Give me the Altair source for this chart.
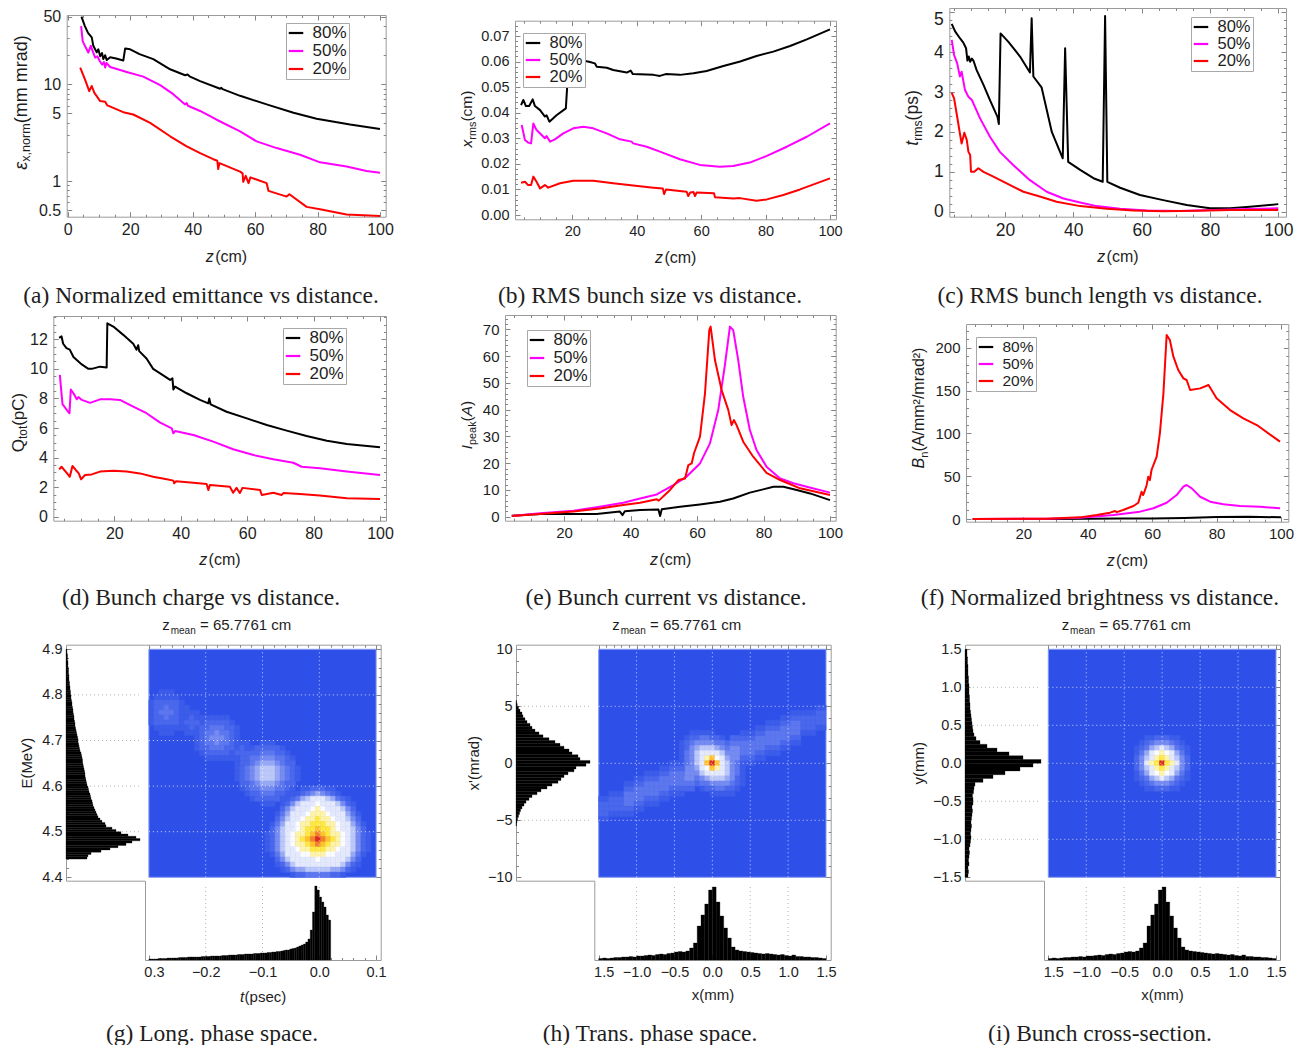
import math
import altair as alt
import pandas as pd

W, H, M = 1292, 1037, 8
SANS, SERIF = "Liberation Sans", "Liberation Serif"
FRAME, TICKC, TXT = "#9b9b9b", "#858585", "#1e1e1e"
FS = 15
SERIES = ["80%", "50%", "20%"]
SERIES_COLORS = ["#000000", "#ff00ff", "#ff0000"]

# ---------------- (a) normalized emittance (mm mrad) vs z (cm)
A80 = [(4.4, 50), (5.5, 40), (6.5, 34), (7.7, 30.6), (8.2, 25), (9.3, 21.4), (9.8, 23), (10.4, 19.5),
       (11.0, 21), (11.4, 18.2), (12.0, 20), (12.5, 17.8), (13.6, 19.0), (15.5, 18.5), (17.8, 17.6),
       (18.4, 23.5), (20, 23), (23, 20.5), (27.4, 18.2), (32.8, 14.3), (37.6, 12.4), (38.4, 12.6),
       (39, 12.1), (42.4, 10.8), (48.8, 9.0), (49.2, 9.2), (49.6, 8.9), (55.2, 7.6), (63.7, 6.2),
       (72.3, 5.07), (79.7, 4.4), (90.4, 3.83), (100, 3.45)]
A50 = [(4.3, 39.9), (4.8, 28), (5.5, 25), (6.6, 21.3), (7.4, 25), (8.0, 22), (8.8, 18.9), (9.5, 19.5),
       (10.2, 17.5), (11.0, 16.0), (11.6, 17.0), (12.0, 14.9), (12.4, 16.6), (13.6, 15.1), (18.9, 13.4),
       (24.2, 12), (29.6, 9.8), (33.8, 7.9), (37.5, 6.2), (38.1, 6.4), (38.5, 6.0), (42.4, 5.3),
       (47.7, 4.3), (55.2, 3.26), (60.5, 2.57), (66.9, 2.19), (74.4, 1.87), (80.8, 1.56), (89.3, 1.41),
       (95.7, 1.27), (100, 1.22)]
A20 = [(4.0, 14.9), (5.5, 11.3), (6.9, 8.5), (7.7, 9.6), (8.5, 8.2), (10.4, 6.7), (12.0, 6.6), (12.7, 6.05),
       (17.8, 5.15), (21, 4.87), (26.4, 3.99), (32.8, 2.9), (38.1, 2.28), (42.4, 1.94), (46.6, 1.68),
       (47.9, 1.62), (48.2, 1.33), (48.6, 1.53), (55.2, 1.25), (56.0, 1.2), (56.2, 0.98), (57.0, 1.13),
       (57.9, 0.95), (58.5, 1.09), (63.7, 0.95), (64.3, 0.79), (70.1, 0.69), (71.0, 0.73), (76.5, 0.54),
       (80.8, 0.51), (89.3, 0.45), (100, 0.435)]

# ---------------- (b) rms bunch size (cm)
B80 = [(4.1, 0.043), (4.8, 0.045), (5.6, 0.0426), (6.6, 0.0426), (7.7, 0.0452), (8.4, 0.0426), (10, 0.041),
       (11.5, 0.0385), (12, 0.039), (12.9, 0.0365), (15.1, 0.039), (18, 0.0417), (18.4, 0.050),
       (19.2, 0.060), (20.3, 0.0615), (23, 0.0605), (25.5, 0.0598), (27, 0.0593), (27.6, 0.058),
       (30.7, 0.0576), (32.7, 0.0567), (36.9, 0.0557), (38.1, 0.0565), (38.8, 0.0551), (45.2, 0.0548),
       (47.2, 0.0544), (49, 0.0551), (53.4, 0.0548), (57.6, 0.0554), (61.7, 0.0563), (66.9, 0.0583),
       (72.1, 0.06), (77.2, 0.0622), (82.4, 0.0639), (87.6, 0.0661), (92.8, 0.0687), (100, 0.0726)]
B50 = [(4.3, 0.0352), (5.3, 0.0293), (6.3, 0.0283), (7.2, 0.028), (7.9, 0.0358), (8.9, 0.0332), (10, 0.0319),
       (11.5, 0.03), (12, 0.0309), (13.1, 0.0287), (14.6, 0.0296), (17.2, 0.0319), (20.3, 0.0339),
       (23.4, 0.0345), (26.5, 0.0339), (30.7, 0.0319), (34.8, 0.0296), (38.4, 0.0287), (38.9, 0.028),
       (43.1, 0.0267), (47.2, 0.0248), (53.4, 0.0218), (59.6, 0.0196), (65.8, 0.0189), (69.9, 0.0192),
       (75.1, 0.0205), (80.4, 0.0231), (86.6, 0.0267), (92.8, 0.0306), (100, 0.0358)]
B20 = [(4.1, 0.0126), (5.3, 0.013), (6.3, 0.0117), (7.2, 0.0117), (7.9, 0.015), (8.9, 0.013), (10, 0.0104),
       (11.5, 0.0117), (12.5, 0.0107), (16.2, 0.0124), (20.3, 0.0134), (26.5, 0.0134), (32.7, 0.0124),
       (38.9, 0.0115), (45.2, 0.0107), (48.1, 0.0104), (48.5, 0.0082), (49.1, 0.01), (55.5, 0.0091),
       (56, 0.0074), (56.6, 0.0088), (57.6, 0.009), (58.1, 0.0074), (58.6, 0.0088), (64, 0.0085),
       (64.3, 0.0069), (70, 0.0065), (72, 0.0066), (77.2, 0.0056), (80.4, 0.0061), (85.5, 0.0078),
       (90.7, 0.01), (100, 0.0143)]

# ---------------- (c) rms bunch length (ps)
C80 = [(4.4, 4.71), (5.4, 4.52), (6.8, 4.35), (7.8, 4.24), (8.6, 4.1), (9.0, 3.79), (9.4, 3.89), (9.8, 3.76),
       (10.3, 3.84), (10.8, 3.78), (11.7, 3.55), (13.7, 3.18), (15.6, 2.8), (17.8, 2.38), (18.2, 2.2),
       (18.7, 4.47), (21, 4.26), (24.4, 3.89), (27.3, 3.49), (27.8, 4.85), (28.3, 3.39), (30.7, 3.12),
       (33.7, 2.0), (36.9, 1.34), (37.6, 4.1), (38.5, 1.25), (42, 1.05), (45.9, 0.84), (48.6, 0.75),
       (49.3, 4.91), (49.95, 0.75), (53.7, 0.6), (59.5, 0.42), (66.3, 0.29), (73.2, 0.17), (80, 0.084),
       (85.9, 0.084), (91.7, 0.125), (100, 0.19)]
C50 = [(4.4, 4.31), (5.1, 3.93), (6.0, 3.72), (6.8, 3.39), (7.3, 3.51), (8.3, 3.05), (9.3, 2.88), (10.3, 2.8),
       (11.2, 2.63), (12.7, 2.34), (15.6, 1.88), (18.5, 1.5), (22.4, 1.17), (27.3, 0.79), (32.2, 0.5),
       (37.1, 0.33), (42, 0.23), (46.8, 0.14), (53.7, 0.075), (61.5, 0.033), (71.2, 0.017), (81, 0.04),
       (90.7, 0.067), (100, 0.084)]
C20 = [(4.4, 2.98), (5.1, 2.84), (6.0, 2.38), (6.8, 1.96), (7.3, 1.71), (8.1, 1.98), (8.8, 1.8), (9.3, 1.5),
       (9.8, 1.42), (10.05, 1.0), (11, 1.0), (12.2, 1.09), (13.7, 1.0), (16.6, 0.88), (20.5, 0.71),
       (25.4, 0.5), (30.2, 0.38), (35.1, 0.25), (42, 0.14), (49.8, 0.075), (57.6, 0.033), (66.3, 0.01),
       (76.1, 0.025), (85.9, 0.04), (100, 0.04)]

# ---------------- (d) bunch charge (pC)
D80 = [(3.4, 12.1), (4.1, 12.2), (4.6, 11.7), (5.6, 11.4), (6.6, 11.3), (7.7, 10.8), (8.7, 10.6), (10.2, 10.3),
       (12.2, 10.0), (13.2, 10.0), (15.7, 10.15), (17.7, 10.1), (17.9, 13.08), (19.7, 12.86), (22.7, 12.3),
       (25.7, 11.7), (26.7, 11.3), (27.2, 11.6), (27.5, 11.2), (29.7, 10.7), (31.7, 10.0), (33.8, 9.7),
       (36.8, 9.25), (37.5, 9.36), (37.8, 8.6), (38.3, 8.8), (41.8, 8.35), (45.8, 7.9), (48.3, 7.67),
       (48.6, 8.0), (49.0, 7.6), (53.8, 7.1), (59.9, 6.65), (65.9, 6.2), (71.9, 5.82), (77.9, 5.46),
       (84, 5.14), (90, 4.92), (100, 4.69)]
D50 = [(3.6, 9.59), (4.4, 7.62), (6.1, 7.1), (6.5, 7.0), (6.9, 8.6), (7.7, 8.35), (8.7, 7.94), (9.2, 8.1),
       (10.2, 7.9), (12.7, 7.7), (15.7, 7.94), (18.7, 7.94), (21.7, 7.9), (25.7, 7.44), (29.7, 7.0),
       (33.8, 6.36), (37.3, 5.98), (37.8, 5.64), (38.3, 5.8), (43.8, 5.53), (49.8, 5.08), (55.8, 4.56),
       (61.9, 4.17), (67.9, 3.88), (73.9, 3.65), (76.4, 3.38), (81.9, 3.27), (90, 3.05), (100, 2.82)]
D20 = [(3.4, 3.2), (4.1, 3.38), (5.6, 2.98), (6.6, 2.7), (7.4, 3.43), (8.4, 3.16), (9.3, 2.93), (10.0, 2.53),
       (11.2, 2.82), (13.2, 2.86), (15.7, 3.05), (19.7, 3.11), (23.7, 3.05), (27.7, 2.93), (31.7, 2.7),
       (35.8, 2.53), (37.8, 2.44), (38.0, 2.26), (38.6, 2.4), (43.8, 2.3), (47.8, 2.21), (48.3, 1.8),
       (48.8, 2.15), (54.8, 2.03), (55.8, 1.62), (56.8, 1.95), (57.8, 1.6), (58.6, 1.95), (63.9, 1.8),
       (64.4, 1.47), (67.9, 1.62), (70.4, 1.47), (70.9, 1.6), (75.9, 1.53), (81.9, 1.44), (90, 1.24),
       (100, 1.2)]

# ---------------- (e) peak current (A)
E80 = [(4.3, 0.4), (12.8, 1.0), (22.8, 1.0), (29.8, 1.0), (36.8, 1.9), (37.6, 0.6), (38.3, 2.0), (42.9, 2.5),
       (48.4, 2.7), (48.9, 0.25), (49.4, 2.8), (54.9, 3.7), (60.9, 4.6), (66.9, 5.6), (70.9, 6.8),
       (75.9, 9.0), (79.9, 10.2), (83, 11.2), (86, 11.2), (90, 10), (94, 8.7), (100, 6.2)]
E50 = [(4.3, 0.25), (12.8, 1.25), (22.8, 2.2), (30.8, 3.7), (37.8, 5.2), (42.9, 6.8), (47.9, 8.3),
       (52.9, 11.8), (56.9, 15), (60.9, 19.9), (63.9, 27.4), (66.4, 39.9), (68.4, 56.7), (69.9, 71),
       (70.9, 69.7), (72.4, 58.5), (73.9, 44.8), (75.9, 32.4), (77.9, 24.9), (80.9, 18.7), (85, 14.3),
       (89, 12.5), (93, 11.2), (100, 9.0)]
E20 = [(4.3, 0.25), (12.8, 1.0), (22.8, 1.9), (30.8, 3.1), (37.8, 4.4), (42.9, 5.2), (47.9, 6.5), (48.5, 6.0),
       (51.9, 10), (54.4, 13.7), (56.4, 14.3), (57.4, 19.3), (58.4, 19.9), (59.1, 23.7), (60.9, 29.9),
       (62.4, 46), (63.7, 69.7), (64.1, 71), (65.4, 58.5), (67.4, 47.3), (69.4, 39.9), (70.4, 34.2),
       (71.1, 36.1), (71.9, 34.2), (73.9, 28), (76.9, 22.4), (80.9, 16.4), (85, 13.7), (91, 10.6),
       (100, 8.1)]

# ---------------- (f) normalized brightness
F80 = [(4.3, 0), (30, 0.1), (50, 0.5), (60, 0.6), (70, 1.2), (80, 2.2), (90, 2.6), (100, 2.0)]
F50 = [(4.3, 0), (27.2, 0.4), (37.6, 1.5), (48, 4.7), (56.2, 8.6), (60.4, 12.5), (64.5, 19), (67.6, 28),
       (69.7, 37.7), (70.7, 39.7), (72.3, 35.8), (74.9, 26), (78, 20.2), (82.1, 17.1), (87.3, 15.2),
       (93.5, 14.4), (99.7, 12.5)]
F20 = [(4.3, 0), (27.2, 0.4), (37.6, 1.9), (42.8, 4.7), (46.9, 7.4), (48.5, 9.3), (49, 8.0), (51, 10.5),
       (54.2, 15.2), (55.7, 19), (56.7, 31.9), (57.2, 28), (57.8, 33.9), (58.3, 39.7), (58.8, 49.4),
       (59.3, 45.5), (59.8, 57.2), (61.4, 72.8), (62.4, 100), (63.5, 146.7), (64.5, 214.8), (65.5, 209),
       (66.6, 189.5), (68.1, 174), (69.7, 164.2), (70.7, 162.3), (71.8, 150.6), (74.9, 152.5),
       (77.5, 156.4), (80, 140.9), (84.2, 127.2), (88.3, 117.5), (92.5, 109.7), (99.7, 90.3)]

# ---------------- histograms (relative counts)
G_E_HIST = [21, 22, 25, 35, 44, 52, 60, 66, 74, 70,
            62, 55, 50, 46, 40, 39, 36, 34, 32, 31,
            30, 29, 28, 27, 26.5, 26, 25, 24.5, 24, 23,
            22.5, 22, 21, 20.5, 20, 19.5, 19, 19, 18.5, 18,
            17.5, 17, 16.5, 16.5, 16, 15.5, 15, 14, 13.5, 13,
            12.5, 12, 12, 11.5, 11, 10.5, 10, 9.5, 9, 9,
            8.5, 8, 8, 7.5, 7, 7, 6.5, 6, 6, 5.5,
            5, 5, 4.5, 4.5, 4, 4, 3.5, 3.5, 3, 3,
            3, 2.5, 2.5, 2.5, 2, 2, 2, 1.5, 1.5, 1.5,
            1, 1]
G_T_HIST = [1, 1, 1, 1, 1.5, 1.5, 1.5, 1.5, 2, 2,
            2, 2, 2, 2.5, 2.5, 2.5, 2.5, 3, 3, 3,
            3, 3, 3, 3.5, 3.5, 3.5, 3.5, 4, 4, 4,
            4, 4, 4.5, 4.5, 4.5, 5, 5, 5, 5, 5.5,
            5.5, 5.5, 6, 6, 6, 6, 6.5, 6.5, 6.5, 7,
            7, 7, 7.5, 7.5, 8, 8, 8.5, 8.5, 9, 9.5,
            10, 10, 11, 11.5, 12, 13, 14, 15, 16, 18,
            21, 30, 48, 74, 70, 63, 58, 53, 45, 40]
H_XP_HIST = [0.5, 1, 1.5, 2.5, 3.5, 4.5, 6, 8, 10, 13, 16, 21, 25, 31, 36, 42, 45, 48, 52, 58, 60, 70,
             74, 64, 62, 56, 53, 48, 44, 39, 33, 27, 23, 19, 16, 14, 11, 9, 7, 6, 4, 2.5, 1.2, 0.6]
HI_X_HIST = [1.5, 2, 1.5, 2, 2.5, 2.5, 3, 3, 3.5, 3, 4, 4, 4.5, 5, 4.5, 5.5, 6, 5.5, 6.5, 7,
             8, 8.5, 8, 9, 12, 17, 34, 45, 56, 70, 73, 58, 44, 32, 22, 13, 10, 9, 8.5, 8,
             7.5, 7, 6.5, 6, 6.5, 6, 5.5, 5, 5.5, 4.5, 4, 5, 3.5, 3.5, 3, 3, 2.5, 2.5, 2, 1.5]
I_Y_HIST = [3, 3.5, 3, 4, 3.5, 4, 4.5, 4, 5, 5.5, 6, 5.5, 6, 6.5, 6, 6.5, 7, 7.5, 7, 8,
            8, 7.5, 8.5, 9, 10, 18, 28, 40, 55, 68, 76, 58, 44, 32, 22, 15, 11, 9, 8, 7.5,
            7, 6.5, 6, 5.5, 5, 5, 4.5, 4.5, 4, 4, 4, 3.5, 3.5, 3, 3, 3, 2.5, 2.5, 2, 2]

# ---------------- density maps: intensity levels (45x45 cells)
LEVELS = "123456789abcd"
HEAT_COLORS = ["#3c5cea", "#4a68ec", "#5d77ee", "#768cf1", "#97a9f4", "#bcc8f8", "#e4e9fc", "#fbfcff",
               "#fff4a6", "#ffe840", "#ffc22e", "#f5802a", "#dc2a20"]
BG_BLUE = "#2f50e8"

G_MAIN = [".......1122211........", "......123454321.......", "....1235677765321.....",
          "...124677787776421....", "...246777898777642....", "..13577789998777531...",
          "..24677899a99877642...", ".13577899aaa99877531..", ".2467789aabaa9877642..",
          "12467899abcba99876421.", "1246789abcdcba9876421.", "12467899abcba99876421.",
          "124677899aaa998776421.", ".1357778899988777531..", "..24677777877777642...",
          "..12467777777776421...", "...124556666655421....", ".....12233333221......"]
G_SEC = [".....111.....", "...1222221...", "..122333221..", ".12334443321.", ".22345554322.",
         "1234566654321", "1234566654321", "1234566654321", ".22345554322.", ".12334443321.",
         "..122333221..", "...1222221...", ".....111....."]
G_TER = ["..11111..", ".1222221.", "122333221", "123343321", "123444321", "123343321", "122333221",
         ".1222221.", "..11111.."]
G_QUA = ["...111...", "..11111..", ".1222221.", "112232211", "112333211", "112232211", ".1222221.",
         "..11111..", "...111..."]
G_LINK = [".111.", "11211", "12221", "11211", ".111."]
G_PATCHES = [(23, 27, G_MAIN), (17, 18, G_SEC), (9, 13, G_TER), (-1, 8, G_QUA),
             (6, 12, G_LINK), (16, 18, G_LINK), (26, 28, G_LINK)]

H_CORE = ["..11111......", ".12233221....", "1234444321...", "12456665421..", "134677776421.",
          "134679b87532.", "12467bdb76421", ".23578b976431", ".124677776431", "..12456665421",
          "...1234444321", "....12233221.", "......11111.."]
H_PATCHES = [(16, 16, H_CORE)]
H_BAND_ROW = [9, 9, 8, 8, 8, 7, 7, 6, 6, 5, 5, 5, 4, 4, 3, 3, 3, 2, 2, 1, 1, 0, 0,
              0, -1, -1, -2, -2, -3, -3, -3, -4, -4, -5, -5, -5, -6, -6, -7, -7, -8, -8, -8, -9, -9]
H_BAND_LEV = [2, 2, 2, 2, 2, 3, 3, 3, 3, 3, 3, 3, 3, 3, 3, 3, 3, 4, 4, 4, 5, 5, 5,
              5, 5, 4, 4, 4, 3, 3, 3, 3, 3, 3, 3, 3, 3, 3, 3, 3, 2, 2, 2, 2, 2]

I_CORE = ["...1122211...", "..123444321..", ".12356765321.", ".13578987531.", ".24679a97642.",
          ".2479ada9742.", ".24679a97642.", ".13578987531.", ".12356765321.", "..123444321..",
          "...1122211..."]
I_PATCHES = [(16, 17, I_CORE)]

CAPTIONS = [("(a) Normalized emittance vs distance.", 201, 296), ("(b) RMS bunch size vs distance.", 650, 296),
            ("(c) RMS bunch length vs distance.", 1100, 296), ("(d) Bunch charge vs distance.", 201, 598),
            ("(e) Bunch current vs distance.", 666, 598), ("(f) Normalized brightness vs distance.", 1100, 598),
            ("(g) Long. phase space.", 212, 1034), ("(h) Trans. phase space.", 650, 1034),
            ("(i) Bunch cross-section.", 1100, 1034)]

# approximate advance widths (em) of Liberation Sans, used to lay out composed titles
CW = {"a": .556, "b": .556, "c": .5, "d": .556, "e": .556, "k": .5, "m": .833, "n": .556, "o": .556,
      "p": .556, "r": .333, "s": .5, "t": .278, "x": .5, "(": .333, ")": .333, " ": .278, ",": .278,
      "/": .278, "\u00b2": .333, "A": .667, "B": .667, "C": .722, "I": .278, "Q": .778,
      "\u03b5": .45}


def tw(s, size):
    return sum(CW.get(ch, 0.556) for ch in s) * size


def px(v):
    return v - M


def mkscale(v1, p1, v2, p2, e0, e1, log=False):
    a1, a2 = (math.log10(v1), math.log10(v2)) if log else (v1, v2)
    k = (a2 - a1) / (p2 - p1)
    d0, d1 = a1 + (e0 - p1) * k, a1 + (e1 - p1) * k
    if log:
        dom = [10 ** d0, 10 ** d1]
        return alt.Scale(type="log", domain=dom, range=[px(e0), px(e1)], nice=False), dom
    return alt.Scale(domain=[d0, d1], range=[px(e0), px(e1)], nice=False, zero=False), [d0, d1]


def off(orient, pos):
    return {"top": -px(pos), "bottom": px(pos) - H, "left": -px(pos), "right": px(pos) - W}[orient]


def ax_label(orient, pos, values, fmt, title=None, tpad=6, lpad=5, expr=None, shift=None, lfs=FS):
    kw = dict(orient=orient, offset=off(orient, pos), values=values, format=fmt, domain=False, ticks=False,
              grid=False, labelFont=SANS, labelFontSize=lfs, labelColor=TXT, labelPadding=lpad,
              labelFlush=False, labelOverlap=False)
    if title:
        kw.update(title=title, titleFont=SANS, titleFontSize=FS, titleFontWeight="normal", titleColor=TXT,
                  titlePadding=tpad)
    else:
        kw["title"] = None
    if expr:
        kw["labelExpr"] = expr
    if shift:
        kw["labelOffset"] = shift
    return alt.Axis(**kw)


def ax_tick(orient, pos, values, size, domain=True):
    kw = dict(orient=orient, offset=off(orient, pos), values=values, labels=False, ticks=True, tickSize=size,
              tickColor=TICKC, tickWidth=1, domain=domain, grid=False, title=None)
    if domain:
        kw.update(domainColor=FRAME, domainWidth=1)
    return alt.Axis(**kw)


def ax_frame(orient, pos):
    return alt.Axis(orient=orient, offset=off(orient, pos), values=[], labels=False, ticks=False, domain=True,
                    domainColor=FRAME, domainWidth=1, grid=False, title=None)


def ghost(xs, xd, ys, yd, xa, ya):
    df = pd.DataFrame({"x": list(xd), "y": list(yd)})
    return alt.Chart(df).mark_point(opacity=0).encode(
        x=alt.X("x:Q", scale=xs, axis=xa), y=alt.Y("y:Q", scale=ys, axis=ya))


ONE = pd.DataFrame({"k": [0]})


def text(t, x, y, size=FS, font=SANS, align="center", baseline="middle", style=None, angle=None):
    mk = dict(text=t, font=font, fontSize=size, align=align, baseline=baseline, color=TXT)
    if style:
        mk["fontStyle"] = style
    if angle:
        mk["angle"] = angle
    return alt.Chart(ONE).mark_text(**mk).encode(x=alt.value(px(x)), y=alt.value(px(y)))


def var_title(var, unit, cx, y, size):
    x0 = cx - (tw(var, size) + tw(unit, size)) / 2.0
    return [text(var, x0, y, size=size, align="left", style="italic"),
            text(unit, x0 + tw(var, size) + 0.5, y, size=size, align="left")]


def rot_title(pieces, xb, yc, size):
    """vertical (bottom-to-top) title composed of pieces: (text, italic, subscript)"""
    sizes = [size * (0.7 if sub else 1.0) for _, _, sub in pieces]
    total = sum(tw(t, s) for (t, _, _), s in zip(pieces, sizes))
    y = yc + total / 2.0
    out = []
    for (t, it, sub), s in zip(pieces, sizes):
        out.append(text(t, xb + (0.22 * size if sub else 0), y, size=s, align="left", baseline="alphabetic",
                        style="italic" if it else None, angle=270))
        y -= tw(t, s)
    return out


def series_df(sets):
    rows = []
    for name, pts in zip(SERIES, sets):
        for z, v in pts:
            rows.append({"z": z, "v": v, "s": name})
    return pd.DataFrame(rows)


PANELS = [
    dict(data=(A80, A50, A20), fx=(66.7, 385.7), fy=(216.7, 15.0), xc=(0, 67.7, 100, 380.0),
         yc=(1, 181.0, 50, 16.7), log=True, xt=[0, 20, 40, 60, 80, 100], yt=[0.5, 1, 5, 10, 50],
         ym=[0.6, 0.7, 0.8, 0.9, 2, 3, 4, 6, 7, 8, 9, 20, 30, 40], yfmt="~g", lfs=16, lgs=17,
         ytitle=[("\u03b5", True, False), ("x,norm", False, True), ("(mm mrad)", False, False)],
         yts=18.0, ytx=26.5, yty=102.5, leg=(286, 23), xty=256.7),
    dict(data=(B80, B50, B20), fx=(515.0, 836.0), fy=(219.3, 20.7), xc=(20, 572.3, 100, 830.0),
         yc=(0, 215.0, 0.07, 36.0), xt=[20, 40, 60, 80, 100], yt=[0, 0.01, 0.02, 0.03, 0.04, 0.05, 0.06, 0.07],
         ym=[round(0.002 * i, 3) for i in range(0, 38) if i % 5], yfmt=".2f", lfs=14.5, lgs=16.5,
         ytitle=[("x", True, False), ("rms", False, True), ("(cm)", False, False)],
         yts=15.5, ytx=472.3, yty=119.0, leg=(523, 33), xty=257.5),
    dict(data=(C80, C50, C20), fx=(949.3, 1286.0), fy=(216.7, 8.0), xc=(20, 1005.0, 100, 1278.3),
         yc=(0, 211.7, 5, 12.3), xt=[20, 40, 60, 80, 100], yt=[0, 1, 2, 3, 4, 5],
         ym=[round(0.2 * i, 1) for i in range(0, 26) if i % 5], yfmt="d", lfs=17.5, lgs=16.5,
         ytitle=[("t", True, False), ("rms", False, True), ("(ps)", False, False)],
         yts=17.5, ytx=917.9, yty=118.0, leg=(1191, 17), xty=257.0,
         yshift={"condition": {"test": "datum.value > 4.5", "value": 7}, "value": 0}),
    dict(data=(D80, D50, D20), fx=(53.3, 386.0), fy=(520.7, 316.0), xc=(20, 114.3, 100, 380.0),
         yc=(0, 516.7, 12, 339.3), xt=[20, 40, 60, 80, 100], yt=[0, 2, 4, 6, 8, 10, 12],
         ym=[0.5 * i for i in range(0, 28) if i % 4], yfmt="d", lfs=16, lgs=17,
         ytitle=[("Q", False, False), ("tot", False, True), ("(pC)", False, False)],
         yts=17.0, ytx=23.5, yty=422.5, leg=(283, 328), xty=560.0),
    dict(data=(E80, E50, E20), fx=(505.0, 835.7), fy=(520.7, 315.0), xc=(20, 564.0, 100, 830.0),
         yc=(0, 516.7, 70, 329.3), xt=[20, 40, 60, 80, 100], yt=[0, 10, 20, 30, 40, 50, 60, 70],
         ym=[2 * i for i in range(0, 38) if i % 5], yfmt="d", lfs=15, lgs=17,
         ytitle=[("I", True, False), ("peak", False, True), ("(", False, False), ("A", True, False),
                 (")", False, False)],
         yts=15.5, ytx=472.3, yty=425.0, leg=(527, 330), xty=560.0),
    dict(data=(F80, F50, F20), fx=(966.0, 1288.3), fy=(521.7, 324.0), xc=(20, 1023.3, 100, 1281.0),
         yc=(0, 519.0, 200, 347.7), xt=[20, 40, 60, 80, 100], yt=[0, 50, 100, 150, 200],
         ym=[10 * i for i in range(0, 23) if i % 5], yfmt="d", lfs=15, lgs=15.5,
         ytitle=[("B", True, False), ("n", False, True), ("(A/mm\u00b2/mrad\u00b2)", False, False)],
         yts=16.0, ytx=924.2, yty=408.0, leg=(976, 337), xty=560.5),
]


def line_panel(p):
    x0, x1 = p["fx"]
    yb, yt_ = p["fy"]
    xs, xd = mkscale(*p["xc"], x0, x1)
    ys, yd = mkscale(*p["yc"], yb, yt_, log=p.get("log", False))
    lx, ly = p["leg"]
    legend = alt.Legend(orient="none", legendX=px(lx), legendY=px(ly), title=None, symbolType="stroke",
                        symbolStrokeWidth=2.2, symbolSize=210, labelFont=SANS, labelFontSize=p["lgs"],
                        labelColor=TXT, fillColor="white", strokeColor="#a8a8a8", padding=1.5, rowPadding=0,
                        labelOffset=8, zindex=1)
    main = alt.Chart(series_df(p["data"])).mark_line(strokeWidth=2, strokeJoin="round").encode(
        x=alt.X("z:Q", scale=xs, axis=ax_label("bottom", yb, p["xt"], "d", None, lpad=5, lfs=p["lfs"])),
        y=alt.Y("v:Q", scale=ys, axis=ax_label("left", x0, p["yt"], p["yfmt"], None, lpad=6,
                                               shift=p.get("yshift"), lfs=p["lfs"])),
        color=alt.Color("s:N", scale=alt.Scale(domain=SERIES, range=SERIES_COLORS), legend=legend),
    )
    xm = [v for v in range(0, 105, 5) if v % 20 and xd[0] <= v <= xd[1]]
    ym = p["ym"]
    return [
        ghost(xs, xd, ys, yd, ax_tick("top", yb, p["xt"], 5), ax_tick("right", x0, p["yt"], 5)),
        ghost(xs, xd, ys, yd, ax_tick("top", yb, xm, 2.5, False), ax_tick("right", x0, ym, 2.5, False)),
        ghost(xs, xd, ys, yd, ax_tick("bottom", yt_, p["xt"], 5), ax_tick("left", x1, p["yt"], 5)),
        ghost(xs, xd, ys, yd, ax_tick("bottom", yt_, xm, 2.5, False), ax_tick("left", x1, ym, 2.5, False)),
        main,
    ] + var_title("z", "(cm)", (x0 + x1) / 2.0, p["xty"], 16) + rot_title(p["ytitle"], p["ytx"], p["yty"], p["yts"])


def heat_df(patches, band, N, hx, hy):
    grid = {}

    def put(c, r, lv):
        if 0 <= c < N and 0 <= r < N and lv >= 0 and grid.get((c, r), -1) < lv:
            grid[(c, r)] = lv

    for c0, r0, rows in patches:
        for i, row in enumerate(rows):
            for j, ch in enumerate(row):
                if ch != ".":
                    put(c0 + j, r0 + i, LEVELS.index(ch))
    if band:
        for c, (ro, lv) in enumerate(zip(*band)):
            r = N // 2 + ro
            for d, drop in ((0, 1), (1, 1), (2, 2), (3, 3)):
                put(c, r - d, lv - drop)
                put(c, r + d, lv - drop)
    recs = []
    for (c, r), lv in grid.items():
        recs.append(dict(x0=hx[0] + (hx[1] - hx[0]) * c / N, x1=hx[0] + (hx[1] - hx[0]) * (c + 1) / N,
                         y0=hy[1] - (hy[1] - hy[0]) * (r + 1) / N, y1=hy[1] - (hy[1] - hy[0]) * r / N,
                         lev=LEVELS[lv]))
    return pd.DataFrame(recs)


def hist_df(start, width, vals):
    return pd.DataFrame({"lo": [start + width * i for i in range(len(vals))],
                         "hi": [start + width * (i + 1) for i in range(len(vals))],
                         "c": vals, "b": [0] * len(vals)})


PHASE = [
    dict(box=(66.0, 145.0, 380.7, 644.7, 880.7, 960.0), xc=(-0.2, 205.7, 0.0, 319.3), yc=(4.4, 877.3, 4.9, 649.3),
         heat=((-0.3, 0.1), (4.4, 4.9)), xt=[-0.3, -0.2, -0.1, 0.0, 0.1],
         xm=[round(-0.3 + 0.02 * i, 2) for i in range(21) if i % 5], xfmt=".1f", thr=-0.25,
         yt=[4.4, 4.5, 4.6, 4.7, 4.8, 4.9], ym=[round(4.4 + 0.02 * i, 2) for i in range(26) if i % 5], yfmt=".1f",
         xgrid=[-0.2, -0.1, 0.0], ygrid=[4.5, 4.6, 4.7, 4.8], xtitle=("t", "(psec)"), ytitle="E(MeV)", ytp=7,
         patches=G_PATCHES, band=None, lh=(4.44, 0.005, G_E_HIST), bh=(-0.3, 0.004, G_T_HIST), tx=162.3),
    dict(box=(516.0, 594.3, 830.7, 644.7, 880.7, 960.0), xc=(-1.5, 598.7, 1.5, 826.0), yc=(-10, 877.3, 10, 649.3),
         heat=((-1.5, 1.5), (-10, 10)), xt=[-1.5, -1.0, -0.5, 0.0, 0.5, 1.0, 1.5],
         xm=[round(-1.5 + 0.1 * i, 1) for i in range(31) if i % 5], xfmt=".1f", thr=-1.4,
         yt=[-10, -5, 0, 5, 10], ym=[v for v in range(-10, 11) if v % 5], yfmt="d",
         xgrid=[-1.0, -0.5, 0.0, 0.5, 1.0], ygrid=[-5, 0, 5], xtitle="x(mm)", ytitle="x'(mrad)", ytp=6,
         patches=H_PATCHES, band=(H_BAND_ROW, H_BAND_LEV), lh=(-5.5, 0.25, H_XP_HIST),
         bh=(-1.5, 0.05, HI_X_HIST), tx=612.3),
    dict(box=(965.0, 1044.0, 1280.0, 644.7, 880.7, 960.0), xc=(-1.5, 1048.3, 1.5, 1276.0),
         yc=(-1.5, 877.3, 1.5, 649.3), heat=((-1.5, 1.5), (-1.5, 1.5)), xt=[-1.5, -1.0, -0.5, 0.0, 0.5, 1.0, 1.5],
         xm=[round(-1.5 + 0.1 * i, 1) for i in range(31) if i % 5], xfmt=".1f", thr=-1.4,
         yt=[-1.5, -1.0, -0.5, 0.0, 0.5, 1.0, 1.5], ym=[round(-1.5 + 0.1 * i, 1) for i in range(31) if i % 5],
         yfmt=".1f", xgrid=[-1.0, -0.5, 0.0, 0.5, 1.0], ygrid=[-1.0, -0.5, 0.0, 0.5, 1.0],
         xtitle="x(mm)", ytitle="y(mm)", ytp=6, patches=I_PATCHES, band=None,
         lh=(-1.5, 0.05, I_Y_HIST), bh=(-1.5, 0.05, HI_X_HIST), tx=1061.7),
]


def phase_panel(c):
    L, SX, R, T, SY, B = c["box"]
    xs, xd = mkscale(*c["xc"], SX, R)
    ys, yd = mkscale(*c["yc"], SY, T)
    xl = alt.Scale(domain=[0, SX - L], range=[px(L), px(SX)], nice=False, zero=False)
    xld = [0, SX - L]
    yb = alt.Scale(domain=[0, B - SY], range=[px(B), px(SY)], nice=False, zero=False)
    ybd = [0, B - SY]
    (hx0, hx1), (hy0, hy1) = c["heat"]
    thr = c["thr"]
    expr = ("datum.value < %s ? replace(replace(datum.label, '\u2212', ''), '-', '') : datum.label" % thr)
    shift = {"condition": {"test": "datum.value < %s" % thr, "value": 5}, "value": 0}
    heat_colors = alt.Scale(domain=list(LEVELS), range=HEAT_COLORS)
    xtitle = c["xtitle"] if isinstance(c["xtitle"], str) else None
    layers = []
    bg = pd.DataFrame({"x0": [hx0], "x1": [hx1], "y0": [hy0], "y1": [hy1]})
    layers.append(alt.Chart(bg).mark_rect(color=BG_BLUE, stroke="#8298f2", strokeWidth=1).encode(
        x=alt.X("x0:Q", scale=xs, axis=ax_label("bottom", B, c["xt"], c["xfmt"], xtitle, tpad=9, lpad=5,
                                                 expr=expr, shift=shift, lfs=14.5)),
        x2="x1:Q",
        y=alt.Y("y0:Q", scale=ys, axis=ax_label("left", L, c["yt"], c["yfmt"], c["ytitle"], tpad=c["ytp"],
                                                 lpad=4, lfs=14.5)),
        y2="y1:Q"))
    cells = heat_df(c["patches"], c["band"], 45, (hx0, hx1), (hy0, hy1))
    layers.append(alt.Chart(cells).mark_rect(strokeWidth=0.6).encode(
        x=alt.X("x0:Q", scale=xs, axis=None), x2="x1:Q",
        y=alt.Y("y0:Q", scale=ys, axis=None), y2="y1:Q",
        color=alt.Color("lev:N", scale=heat_colors, legend=None),
        stroke=alt.Stroke("lev:N", scale=heat_colors, legend=None)))
    vg = pd.DataFrame({"g": c["xgrid"]})
    hg = pd.DataFrame({"g": c["ygrid"]})
    dash = dict(strokeDash=[1, 3], strokeWidth=1)
    layers.append(alt.Chart(vg).mark_rule(color="#ffffff", opacity=0.75, **dash).encode(
        x=alt.X("g:Q", scale=xs, axis=None), y=alt.YDatum(hy0, scale=ys, axis=None), y2=alt.Y2Datum(hy1)))
    layers.append(alt.Chart(hg).mark_rule(color="#ffffff", opacity=0.75, **dash).encode(
        y=alt.Y("g:Q", scale=ys, axis=None), x=alt.XDatum(hx0, scale=xs, axis=None), x2=alt.X2Datum(hx1)))
    layers.append(alt.Chart(hg).mark_rule(color="#b8b8b8", **dash).encode(
        y=alt.Y("g:Q", scale=ys, axis=None), x=alt.XDatum(0, scale=xl, axis=None), x2=alt.X2Datum(76)))
    layers.append(alt.Chart(vg).mark_rule(color="#b8b8b8", **dash).encode(
        x=alt.X("g:Q", scale=xs, axis=None), y=alt.YDatum(0, scale=yb, axis=None), y2=alt.Y2Datum(76)))
    lh = hist_df(*c["lh"])
    layers.append(alt.Chart(lh).mark_rect(color="black", stroke="black", strokeWidth=0.3).encode(
        x=alt.X("b:Q", scale=xl, axis=ax_frame("bottom", T)), x2="c:Q",
        y=alt.Y("lo:Q", scale=ys, axis=None), y2="hi:Q"))
    bh = hist_df(*c["bh"])
    layers.append(alt.Chart(bh).mark_rect(color="black", stroke="black", strokeWidth=0.3).encode(
        x=alt.X("lo:Q", scale=xs, axis=None), x2="hi:Q",
        y=alt.Y("b:Q", scale=yb, axis=ax_frame("left", R)), y2="c:Q"))
    layers.append(ghost(xl, xld, yb, ybd, ax_frame("bottom", SY), ax_frame("left", SX)))
    layers.append(ghost(xs, xd, ys, yd, ax_tick("top", B, c["xt"], 5), ax_tick("right", L, c["yt"], 5)))
    layers.append(ghost(xs, xd, ys, yd, ax_tick("top", B, c["xm"], 2.5, False), ax_tick("right", L, c["ym"], 2.5, False)))
    layers.append(ghost(xs, xd, ys, yd, ax_tick("bottom", T, c["xt"], 5), ax_tick("left", R, c["yt"], 5)))
    layers.append(ghost(xs, xd, ys, yd, ax_tick("bottom", T, c["xm"], 2.5, False), ax_tick("left", R, c["ym"], 2.5, False)))
    if xtitle is None:
        var, unit = c["xtitle"]
        layers += var_title(var, unit, (SX + R) / 2.0, 996.7, 15)
    x0 = c["tx"]
    layers.append(text("z", x0, 630, size=15, align="left", baseline="alphabetic"))
    layers.append(text("mean", x0 + 8.4, 634, size=10, align="left", baseline="alphabetic"))
    layers.append(text("= 65.7761 cm", x0 + 37.7, 630, size=15, align="left", baseline="alphabetic"))
    return layers


layers = []
for p in PANELS:
    layers += line_panel(p)
for c in PHASE:
    layers += phase_panel(c)
for t, x, y in CAPTIONS:
    layers.append(text(t, x, y, size=23.5, font=SERIF))

chart = alt.layer(*layers).resolve_scale(
    x="independent", y="independent", color="independent", stroke="independent"
).resolve_axis(x="independent", y="independent").resolve_legend(
    color="independent", stroke="independent"
).properties(
    width=W, height=H, autosize=alt.AutoSizeParams(type="none"), padding=0
).configure_view(strokeWidth=0)

chart.save("out.html", embed_options={"renderer": "svg", "actions": False})
